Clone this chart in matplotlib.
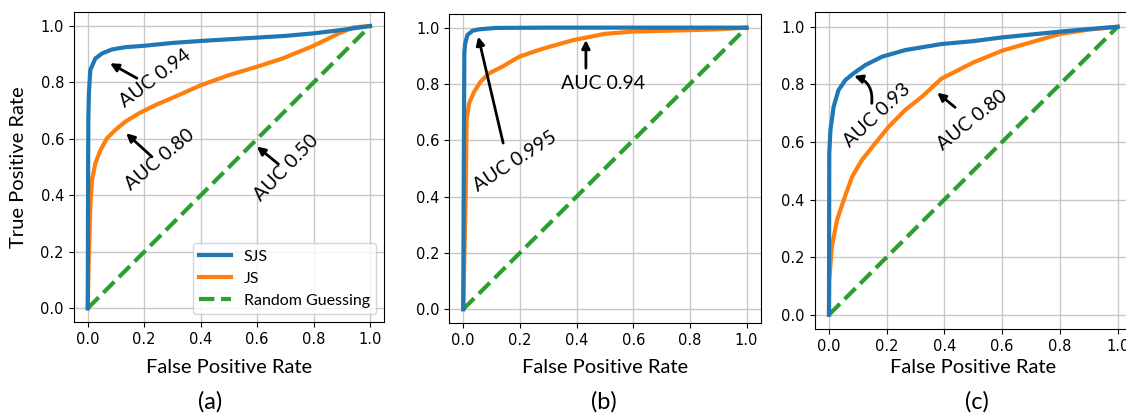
import matplotlib
matplotlib.use('Agg')
import matplotlib.pyplot as plt

# ROC points: (a), (b), (c)
sjs_fpr_a = [0, 0.001, 0.002, 0.004, 0.009, 0.027, 0.051, 0.086, 0.133, 0.2, 0.3, 0.4, 0.5, 0.6, 0.7, 0.8, 0.9, 1.0]
sjs_tpr_a = [0, 0.40, 0.667, 0.76, 0.844, 0.885, 0.903, 0.917, 0.925, 0.93, 0.94, 0.947, 0.953, 0.959, 0.965, 0.974, 0.986, 1.0]
js_fpr_a = [0, 0.003, 0.006, 0.009, 0.015, 0.027, 0.045, 0.068, 0.098, 0.133, 0.18, 0.24, 0.31, 0.4, 0.5, 0.6,
            0.69, 0.8, 0.89, 0.94, 1.0]
js_tpr_a = [0, 0.15, 0.254, 0.36, 0.455, 0.514, 0.56, 0.602, 0.632, 0.661, 0.69, 0.72, 0.75, 0.79, 0.826, 0.856,
            0.885, 0.93, 0.974, 0.995, 1.0]

sjs_fpr_b = [0, 0.002, 0.004, 0.007, 0.015, 0.033, 0.056, 0.115, 0.3, 1.0]
sjs_tpr_b = [0, 0.50, 0.91, 0.944, 0.974, 0.989, 0.994, 0.999, 1.0, 1.0]
js_fpr_b = [0, 0.009, 0.012, 0.021, 0.039, 0.062, 0.092, 0.139, 0.198, 0.28, 0.386, 0.5, 0.6, 0.8, 0.92, 1.0]
js_tpr_b = [0, 0.413, 0.673, 0.732, 0.773, 0.809, 0.838, 0.862, 0.897, 0.925, 0.955, 0.978, 0.986, 0.991, 0.995, 1.0]

sjs_fpr_c = [0, 0.001, 0.005, 0.016, 0.033, 0.057, 0.085, 0.126, 0.184, 0.264, 0.39, 0.5, 0.6, 0.7, 0.8, 0.9, 1.0]
sjs_tpr_c = [0, 0.56, 0.641, 0.722, 0.78, 0.815, 0.838, 0.867, 0.896, 0.919, 0.94, 0.95, 0.963, 0.973, 0.983, 0.992, 1.0]
js_fpr_c = [0, 0.001, 0.01, 0.028, 0.051, 0.08, 0.114, 0.16, 0.207, 0.264, 0.322, 0.39, 0.5, 0.6, 0.7, 0.8, 0.9, 1.0]
js_tpr_c = [0, 0.12, 0.236, 0.329, 0.398, 0.479, 0.537, 0.595, 0.653, 0.711, 0.757, 0.82, 0.876, 0.917, 0.946, 0.975,
            0.99, 1.0]

chance = [0, 1]
panel_letters = ['(a)', '(b)', '(c)']

# annotations: text, text pos, rotation, arrow head, arrow tail, connection style
notes_a = [('AUC 0.94', (0.238, 0.815), 37, (0.079, 0.868), (0.174, 0.815), 'arc3'),
           ('AUC 0.80', (0.256, 0.525), 40, (0.136, 0.620), (0.227, 0.537), 'arc3'),
           ('AUC 0.50', (0.705, 0.496), 46, (0.599, 0.573), (0.675, 0.511), 'arc3')]
notes_b = [('AUC 0.995', (0.182, 0.525), 33, (0.053, 0.968), (0.141, 0.590), 'arc3'),
           ('AUC 0.94', (0.494, 0.803), 0, (0.433, 0.956), (0.433, 0.856), 'arc3')]
notes_c = [('AUC 0.93', (0.165, 0.693), 43, (0.087, 0.829), (0.148, 0.734), 'arc3,rad=0.4'),
           ('AUC 0.80', (0.498, 0.674), 39, (0.375, 0.771), (0.437, 0.720), 'arc3')]

label_font = 'Lato'

fig = plt.figure(figsize=(11.26, 4.13), dpi=100)
positions = [[0.0654, 0.2194, 0.2758, 0.7518],
             [0.3988, 0.2172, 0.2768, 0.7500],
             [0.7234, 0.2031, 0.2820, 0.7670]]
xlabel_y = [-0.118, -0.115, -0.095]
caption_x = [0.187, 0.536, 0.868]

curves = [(sjs_fpr_a, sjs_tpr_a, js_fpr_a, js_tpr_a, notes_a),
          (sjs_fpr_b, sjs_tpr_b, js_fpr_b, js_tpr_b, notes_b),
          (sjs_fpr_c, sjs_tpr_c, js_fpr_c, js_tpr_c, notes_c)]

for i, (sf, st, jf, jt, notes) in enumerate(curves):
    ax = fig.add_axes(positions[i])
    ax.plot(sf, st, color='#1f77b4', lw=3, label='SJS', zorder=4)
    ax.plot(jf, jt, color='#ff7f0e', lw=3, label='JS', zorder=3)
    ax.plot(chance, chance, color='#2ca02c', lw=3, ls='--', label='Random Guessing', zorder=3)
    ax.set_xlim(-0.05, 1.05)
    ax.set_ylim(-0.05, 1.05)
    ax.set_xticks([0, 0.2, 0.4, 0.6, 0.8, 1.0])
    ax.set_yticks([0, 0.2, 0.4, 0.6, 0.8, 1.0])
    ax.tick_params(labelsize=10.5)
    ax.grid(True, color='#c8c8c8', lw=1)
    ax.set_axisbelow(True)
    ax.set_xlabel('False Positive Rate', fontsize=14.5, family=label_font)
    ax.xaxis.set_label_coords(0.5, xlabel_y[i])
    if i == 0:
        ax.set_ylabel('True Positive Rate', fontsize=14.5, family=label_font)
        ax.yaxis.set_label_coords(-0.15, 0.5)
        ax.legend(loc='lower right', prop={'family': label_font, 'size': 11.5})
    for txt, pos, rot, head, tail, style in notes:
        ax.text(pos[0], pos[1], txt, rotation=rot, ha='center', va='center',
                fontsize=14, family=label_font, zorder=6)
        ax.annotate('', xy=head, xytext=tail,
                    arrowprops=dict(arrowstyle='-|>', color='black', lw=2,
                                    mutation_scale=12, shrinkA=0, shrinkB=0,
                                    connectionstyle=style), zorder=6)
    fig.text(caption_x[i], 0.027, panel_letters[i], ha='center', va='center',
             fontsize=17, family=label_font)

fig.savefig('out.png', dpi=100)
